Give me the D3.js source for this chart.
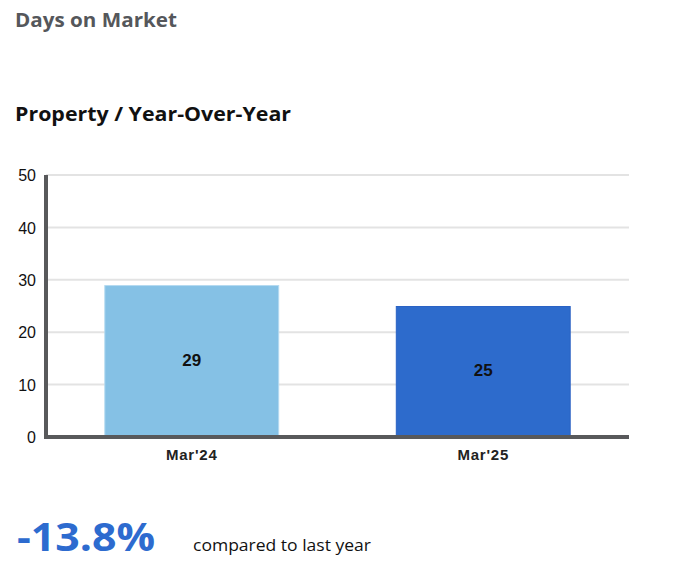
<!DOCTYPE html>
<html><head><meta charset="utf-8">
<script src="https://cdn.jsdelivr.net/npm/d3@7/dist/d3.min.js"></script>
<style>
body{margin:0;background:#fff;}
svg{display:block;}
</style></head>
<body><svg id="c" width="700" height="574"></svg>
<script>
const categories = ["Mar'24", "Mar'25"];
const values = [29, 25];
const barColors = ["#85c1e5", "#2d6bcc"];
const barStrokes = ["#b5daf0", "#2a62c4"];
const yTicks = [0, 10, 20, 30, 40, 50];
const title = "Days on Market";
const subtitle = "Property / Year-Over-Year";
const changeText = "-13.8%";
const changeNote = "compared to last year";

const svg = d3.select("#c");
const mLeft = 46, mRight = 629, mTop = 175, mBottom = 437;
const headFont = "'Open Sans', 'Noto Sans', sans-serif";
const axisFont = "'Liberation Sans', Arial, sans-serif";

svg.append("text").attr("x", 15).attr("y", 27)
  .attr("font-family", headFont).attr("font-weight", 700)
  .attr("font-size", 20).attr("fill", "#55575b")
  .attr("textLength", 162).attr("lengthAdjust", "spacingAndGlyphs").text(title);
svg.append("text").attr("x", 15).attr("y", 121)
  .attr("font-family", headFont).attr("font-weight", 700)
  .attr("font-size", 20).attr("fill", "#111")
  .attr("textLength", 276).attr("lengthAdjust", "spacingAndGlyphs").text(subtitle);

const x = d3.scaleBand().domain(categories).range([mLeft, mRight]).paddingInner(0.4).paddingOuter(0.2);
const y = d3.scaleLinear().domain([0, 50]).range([mBottom, mTop]);

// gridlines
svg.append("g").selectAll("line").data(yTicks.filter(d => d > 0)).join("line")
  .attr("x1", mLeft).attr("x2", mRight)
  .attr("y1", d => y(d)).attr("y2", d => y(d))
  .attr("stroke", "#e3e3e3").attr("stroke-width", 2);

// bars
svg.append("g").selectAll("rect").data(values).join("rect")
  .attr("x", (d, i) => x(categories[i]) + 0.5)
  .attr("y", d => y(d) + 0.5)
  .attr("width", x.bandwidth() - 1)
  .attr("height", d => mBottom - y(d) - 0.5)
  .attr("fill", (d, i) => barColors[i])
  .attr("stroke", (d, i) => barStrokes[i]).attr("stroke-width", 1);

// bar labels
svg.append("g").selectAll("text").data(values).join("text")
  .attr("x", (d, i) => x(categories[i]) + x.bandwidth() / 2)
  .attr("y", d => (y(d) + mBottom) / 2 + 4.5)
  .attr("text-anchor", "middle")
  .attr("font-family", axisFont).attr("font-weight", 700)
  .attr("font-size", 17).attr("fill", "#111").text(d => d);

// y axis
const yAxis = d3.axisLeft(y).tickValues(yTicks).tickSize(0).tickPadding(10);
const gy = svg.append("g").attr("transform", `translate(${mLeft},0)`).call(yAxis);
gy.select(".domain").remove();
gy.selectAll("text").attr("font-family", axisFont)
  .attr("font-size", 16).attr("fill", "#111").attr("dy", "0.35em");

// x axis
const xAxis = d3.axisBottom(x).tickSize(0).tickPadding(12);
const gx = svg.append("g").attr("transform", `translate(0,${mBottom})`).call(xAxis);
gx.select(".domain").remove();
gx.selectAll("text").attr("font-family", axisFont)
  .attr("font-weight", 700).attr("font-size", 15).attr("letter-spacing", 0.8).attr("fill", "#222");

// axis lines
svg.append("line").attr("x1", mLeft).attr("x2", mLeft).attr("y1", mTop).attr("y2", mBottom + 2)
  .attr("stroke", "#58595b").attr("stroke-width", 4);
svg.append("line").attr("x1", mLeft - 2).attr("x2", mRight).attr("y1", mBottom).attr("y2", mBottom)
  .attr("stroke", "#58595b").attr("stroke-width", 4);

// change text
svg.append("text").attr("x", 17).attr("y", 551)
  .attr("font-family", headFont).attr("font-weight", 700)
  .attr("font-size", 40).attr("fill", "#2d6bcf")
  .attr("textLength", 138).attr("lengthAdjust", "spacingAndGlyphs").text(changeText);
svg.append("text").attr("x", 193).attr("y", 551)
  .attr("font-family", headFont).attr("font-weight", 400)
  .attr("font-size", 17).attr("fill", "#111")
  .attr("textLength", 178).attr("lengthAdjust", "spacingAndGlyphs").text(changeNote);
</script></body></html>
